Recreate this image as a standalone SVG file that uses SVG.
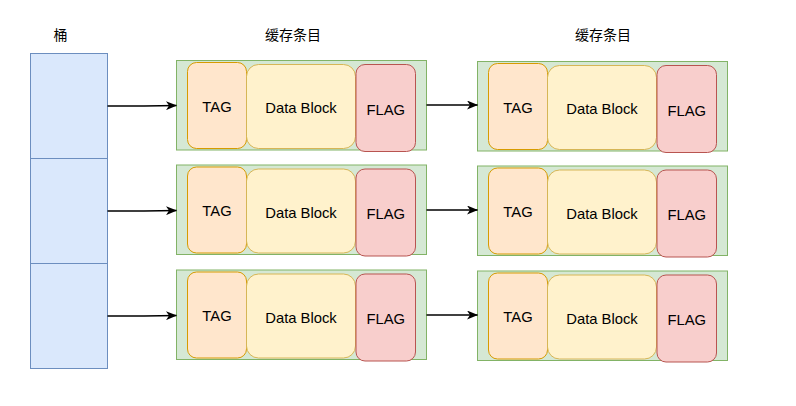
<svg xmlns="http://www.w3.org/2000/svg" width="796" height="406" viewBox="0 0 796 406">
<defs>
<style>
.bucket{fill:#dae8fc;stroke:#6c8ebf;stroke-width:1}
.entry{fill:#d5e8d4;stroke:#82b366;stroke-width:1}
.tag{fill:#ffe6cc;stroke:#d79b00;stroke-width:1}
.data{fill:#fff2cc;stroke:#d6b656;stroke-width:1}
.flag{fill:#f8cecc;stroke:#b85450;stroke-width:1}
.lbl{font-family:"Liberation Sans",Arial,sans-serif;font-size:14.8px;fill:#000;text-anchor:middle}
.hdr{font-family:"Liberation Sans","Noto Sans CJK SC",sans-serif;font-size:14px;fill:#000;text-anchor:middle}
.conn{fill:none;stroke:#000;stroke-width:1.3;marker-end:url(#arr)}
</style>
<marker id="arr" viewBox="0 0 11 9" refX="10.5" refY="4.5" markerWidth="11" markerHeight="9" markerUnits="userSpaceOnUse" orient="auto">
<path d="M0,0 L11,4.5 L0,9 L3,4.5 Z" fill="#000"/>
</marker>
<g id="entryTpl">
<rect class="entry" x="176.5" y="60.5" width="250" height="89.5"/>
<rect class="tag" x="187.5" y="62.5" width="59" height="86" rx="9" ry="9"/>
<rect class="data" x="246.5" y="64.5" width="109" height="84" rx="12" ry="12"/>
<rect class="flag" x="356" y="64.5" width="59.5" height="87" rx="9" ry="9"/>
<text class="lbl" x="217" y="111.5">TAG</text>
<text class="lbl" x="301" y="113">Data Block</text>
<text class="lbl" x="385.8" y="114.5">FLAG</text>
</g>
</defs>

<g id="headers">
<text class="hdr" x="60.5" y="40">桶</text>
<text class="hdr" x="293" y="40">缓存条目</text>
<text class="hdr" x="603" y="40">缓存条目</text>
</g>

<g id="bucket">
<rect class="bucket" x="30.5" y="53.5" width="77" height="105"/>
<rect class="bucket" x="30.5" y="158.5" width="77" height="105"/>
<rect class="bucket" x="30.5" y="263.5" width="77" height="105"/>
</g>

<g id="entry-1-1"><use href="#entryTpl"/></g>
<g id="entry-1-2"><use href="#entryTpl" transform="translate(301,1)"/></g>
<g id="entry-2-1"><use href="#entryTpl" transform="translate(0,104.5)"/></g>
<g id="entry-2-2"><use href="#entryTpl" transform="translate(301,105.5)"/></g>
<g id="entry-3-1"><use href="#entryTpl" transform="translate(0,209.5)"/></g>
<g id="entry-3-2"><use href="#entryTpl" transform="translate(301,210.5)"/></g>

<g id="connectors">
<path class="conn" d="M107.5,106 L144,106 L176.5,105.5"/>
<path class="conn" d="M107.5,211 L144,211 L176.5,210.5"/>
<path class="conn" d="M107.5,316 L144,316 L176.5,315.5"/>
<path class="conn" d="M426.5,105 L477.5,105"/>
<path class="conn" d="M426.5,210 L477.5,210"/>
<path class="conn" d="M426.5,315 L477.5,315"/>
</g>
</svg>
